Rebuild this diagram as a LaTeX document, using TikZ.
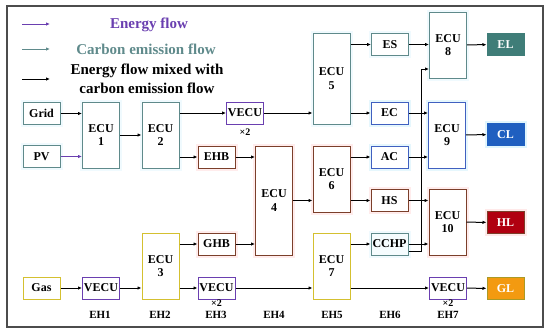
\documentclass[tikz,border=0pt]{standalone}
\usepackage{fontspec}
\setmainfont{Liberation Serif}
\usetikzlibrary{arrows.meta}
\definecolor{tealgray}{HTML}{5F8A8B}
\definecolor{elteal}{HTML}{3F7D78}
\definecolor{vpurple}{HTML}{6A3FB0}
\definecolor{hbrown}{HTML}{7B3F2A}
\definecolor{cblue}{HTML}{4060C0}
\definecolor{clblue}{HTML}{1F5FC0}
\definecolor{gyellow}{HTML}{D4C030}
\definecolor{glorange}{HTML}{F39A10}
\definecolor{hlred}{HTML}{B00010}
\tikzset{
  box/.style={draw,line width=1pt,fill=white,minimum width=37pt,minimum height=22pt,
    inner sep=0pt,font=\bfseries\fontsize{12}{13.5}\selectfont,align=center},
  teal box/.style={box,draw=tealgray,preaction={draw=cyan!6,line width=5pt}},
  purple box/.style={box,draw=vpurple},
  brown box/.style={box,draw=hbrown,preaction={draw=pink!30,line width=5pt}},
  blue box/.style={box,draw=cblue,preaction={draw=cyan!10,line width=5pt}},
  yellow box/.style={box,draw=gyellow},
  load/.style={box,text=white},
  flow/.style={line width=1pt,-{Latex[length=4pt,width=3.5pt]}},
  hub/.style={font=\bfseries\fontsize{11}{12}\selectfont},
  times/.style={font=\bfseries\fontsize{10}{11}\selectfont}
}
\begin{document}
\begin{tikzpicture}[x=1pt,y=-1pt]
  \useasboundingbox (0,0) rectangle (550,333);
  % frame
  \draw[gray!60!black,line width=1.3pt] (7,6) rectangle (543,327);
  % legend
  \coordinate (lgA) at (22,24);  \coordinate (lgAe) at (50,24);
  \coordinate (lgB) at (22,49);  \coordinate (lgBe) at (50,49);
  \coordinate (lgC) at (22,79);  \coordinate (lgCe) at (50,79);
  \draw[flow,vpurple,line width=0.8pt] (lgA) -- (lgAe);
  \draw[flow,tealgray,line width=0.8pt] (lgB) -- (lgBe);
  \draw[flow] (lgC) -- (lgCe);
  \node[font=\bfseries\fontsize{15}{16}\selectfont,text=vpurple] (lgtA) at (149,25) {Energy flow};
  \node[font=\bfseries\fontsize{15}{16}\selectfont,text=tealgray] (lgtB) at (146,49) {Carbon emission flow};
  \node[font=\bfseries\fontsize{15}{19}\selectfont,align=center] (lgtC) at (147,79) {Energy flow mixed with\\carbon emission flow};
  % sources
  \node[teal box] (grid) at (41.5,113.5) {Grid};
  \node[teal box] (pv) at (41.5,156.5) {PV};
  \node[yellow box] (gas) at (41.5,288) {Gas};
  % EH1 - EH3
  \node[teal box,minimum height=66pt] (ecu1) at (101,135) {ECU\\1};
  \node[purple box] (vecu1) at (101,288) {VECU};
  \node[teal box,minimum height=66pt] (ecu2) at (160.5,135) {ECU\\2};
  \node[yellow box,minimum height=66pt] (ecu3) at (160.5,266) {ECU\\3};
  \node[purple box] (vecu2) at (245,113) {VECU};
  \node[times] (x2a) at (245,132) {×2};
  \node[brown box] (ehb) at (216.5,157) {EHB};
  \node[brown box] (ghb) at (216.5,244) {GHB};
  \node[purple box] (vecu3) at (216.5,288) {VECU};
  \node[times] (x2b) at (216.5,303) {×2};
  % EH4 - EH5
  \node[brown box,minimum height=109pt] (ecu4) at (274,200.5) {ECU\\4};
  \node[teal box,minimum height=91pt] (ecu5) at (331.5,78.5) {ECU\\5};
  \node[brown box,minimum height=66pt] (ecu6) at (331.5,179) {ECU\\6};
  \node[yellow box,minimum height=66pt] (ecu7) at (331.5,266) {ECU\\7};
  % EH6
  \node[teal box] (es) at (390,44.5) {ES};
  \node[blue box] (ec) at (389.5,113) {EC};
  \node[blue box] (ac) at (389.5,157) {AC};
  \node[brown box] (hs) at (389.5,200.5) {HS};
  \node[teal box,fill=cyan!4] (cchp) at (389.5,244) {CCHP};
  % EH7
  \node[teal box,minimum height=66pt] (ecu8) at (448,45) {ECU\\8};
  \node[blue box,minimum height=66pt] (ecu9) at (447,135) {ECU\\9};
  \node[brown box,minimum height=66pt] (ecu10) at (447.5,222) {ECU\\10};
  \node[purple box] (vecu7) at (448,288) {VECU};
  \node[times] (x2c) at (448,303) {×2};
  % loads
  \node[load,draw=elteal,fill=elteal] (el) at (505.5,44.5) {EL};
  \node[load,draw=clblue,fill=clblue,preaction={draw=cyan!12,line width=5pt}] (cl) at (505.5,134.5) {CL};
  \node[load,draw=hbrown,fill=hlred,preaction={draw=pink!35,line width=5pt}] (hl) at (505.5,222.5) {HL};
  \node[load,draw=gyellow!80!black,fill=glorange] (gl) at (505.5,288.5) {GL};
  % hub labels
  \foreach \n/\x in {1/100,2/160,3/216,4/274,5/332,6/390,7/448}
    \node[hub] (eh\n) at (\x,315) {EH\n};
  % connectors
  \draw[flow] (grid) -- (grid -| ecu1.west);
  \draw[flow,vpurple] (pv) -- (pv -| ecu1.west);
  \draw[flow] (ecu1) -- (ecu2);
  \draw[flow] (ecu2.east |- vecu2) -- (vecu2);
  \draw[flow] (ecu2.east |- ehb) -- (ehb);
  \draw[flow] (vecu2) -- (vecu2 -| ecu5.west);
  \draw[flow] (ehb) -- (ehb -| ecu4.west);
  \draw[flow] (ghb) -- (ghb -| ecu4.west);
  \draw[flow] (ecu4.east |- hs) -- (hs -| ecu6.west);
  \draw[flow] (gas) -- (vecu1);
  \draw[flow] (vecu1) -- (vecu1 -| ecu3.west);
  \draw[flow] (ecu3.east |- ghb) -- (ghb);
  \draw[flow] (ecu3.east |- vecu3) -- (vecu3);
  \draw[flow] (vecu3) -- (vecu3 -| ecu7.west);
  \draw[flow] (ecu5.east |- es) -- (es);
  \draw[flow] (ecu5.east |- ec) -- (ec);
  \draw[flow] (ecu6.east |- ac) -- (ac);
  \draw[flow] (ecu6.east |- hs) -- (hs);
  \draw[flow] (ecu7.east |- cchp) -- (cchp);
  \draw[flow] (ecu7.east |- vecu7) -- (vecu7);
  \draw[flow] ([yshift=-7pt]cchp.east) -- ++(13,0) |- ([yshift=-24pt]ecu8.west);
  \draw[flow] (es) -- (es -| ecu8.west);
  \draw[flow] (ec) -- (ec -| ecu9.west);
  \draw[flow] (ac) -- (ac -| ecu9.west);
  \draw[flow] (hs) -- (hs -| ecu10.west);
  \draw[flow] (cchp) -- (cchp -| ecu10.west);
  \draw[flow] (ecu8) -- (el);
  \draw[flow] (ecu9) -- (cl);
  \draw[flow] (ecu10) -- (hl);
  \draw[flow] (vecu7) -- (gl);
\end{tikzpicture}
\end{document}
